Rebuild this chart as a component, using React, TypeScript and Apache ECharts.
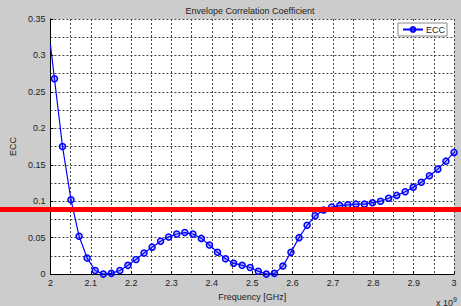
import React, { useEffect, useRef } from "react";
import * as echarts from "echarts";

const chartTitle = "Envelope Correlation Coefficient";
const seriesName = "ECC";
const xAxisTitle = "Frequency [GHz]";
const yAxisTitle = "ECC";
const xScaleNote = "x 10";
const xScaleExp = "9";

// first sample (no marker) and the marked samples
const startFreq = 2.0;
const startEcc = 0.315;
const freqGHz = [
  2.010, 2.030, 2.051, 2.071, 2.091, 2.111, 2.131, 2.151, 2.172, 2.192,
  2.212, 2.232, 2.252, 2.273, 2.293, 2.313, 2.333, 2.353, 2.374, 2.394,
  2.414, 2.434, 2.454, 2.475, 2.495, 2.515, 2.535, 2.555, 2.576, 2.596,
  2.616, 2.636, 2.656, 2.677, 2.697, 2.717, 2.737, 2.757, 2.778, 2.798,
  2.818, 2.838, 2.858, 2.879, 2.899, 2.919, 2.939, 2.960, 2.980, 3.000,
];
const eccValues = [
  0.268, 0.175, 0.102, 0.052, 0.022, 0.005, 0.000, 0.001, 0.005, 0.012,
  0.020, 0.029, 0.037, 0.045, 0.051, 0.055, 0.057, 0.055, 0.049, 0.040,
  0.030, 0.021, 0.015, 0.012, 0.009, 0.004, 0.000, 0.001, 0.011, 0.030,
  0.050, 0.067, 0.080, 0.088, 0.092, 0.094, 0.095, 0.096, 0.096, 0.098,
  0.100, 0.104, 0.108, 0.113, 0.119, 0.126, 0.135, 0.144, 0.155, 0.167,
];
const referenceLevel = 0.0885;

const FONT = "Liberation Sans, Arial, sans-serif";
const TXT = "#222";
const GRIDC = "#444";

export default function App() {
  const ref = useRef<HTMLDivElement>(null);
  useEffect(() => {
    document.body.style.margin = "0";
    if (!ref.current) return;
    const chart = echarts.init(ref.current, null, { renderer: "svg" });
    const data: any[] = [
      { value: [startFreq, startEcc], symbol: "none" },
      ...freqGHz.map((f, i) => [f, eccValues[i]]),
    ];
    const splitStyle = { show: true, lineStyle: { color: GRIDC, type: [2, 2], width: 1 } };
    chart.setOption({
      animation: false,
      backgroundColor: "#cccccc",
      textStyle: { fontFamily: FONT },
      grid: { left: 46, right: 7, top: 19, bottom: 27, show: true, backgroundColor: "#ffffff", borderWidth: 0 },
      legend: {
        data: [seriesName],
        right: 14,
        top: 23,
        backgroundColor: "#ffffff",
        borderColor: "#888",
        borderWidth: 1,
        borderRadius: 0,
        padding: [2, 2, 2, 4],
        itemWidth: 20,
        itemHeight: 6,
        itemGap: 4,
        textStyle: { fontSize: 9, color: TXT, fontFamily: FONT, padding: [0, 0, 0, -2] },
      },
      xAxis: {
        type: "value",
        min: 2,
        max: 3,
        interval: 0.1,
        name: xAxisTitle,
        nameLocation: "middle",
        nameGap: 13,
        nameTextStyle: { fontSize: 9, color: TXT, fontFamily: FONT },
        axisLine: { show: true, lineStyle: { color: "#000", width: 1 } },
        axisTick: { show: true, inside: true, length: 3, lineStyle: { color: "#000" } },
        axisLabel: {
          fontSize: 9,
          color: TXT,
          margin: 4,
          fontFamily: FONT,
          formatter: (v: number) => String(+v.toFixed(1)),
        },
        splitLine: splitStyle,
        minorTick: { show: false, splitNumber: 2 },
        minorSplitLine: splitStyle,
      },
      yAxis: {
        type: "value",
        min: 0,
        max: 0.35,
        interval: 0.05,
        name: yAxisTitle,
        nameLocation: "middle",
        nameGap: 21,
        nameTextStyle: { fontSize: 9, color: TXT, fontFamily: FONT },
        axisLine: { show: true, lineStyle: { color: "#000", width: 1 } },
        axisTick: { show: true, inside: true, length: 3, lineStyle: { color: "#000" } },
        axisLabel: {
          fontSize: 9,
          color: TXT,
          margin: 5,
          fontFamily: FONT,
          formatter: (v: number) => String(+v.toFixed(2)),
        },
        splitLine: splitStyle,
        minorTick: { show: false, splitNumber: 2 },
        minorSplitLine: splitStyle,
      },
      series: [
        {
          name: seriesName,
          type: "line",
          data,
          symbol: "circle",
          symbolSize: 6,
          showAllSymbol: true,
          lineStyle: { color: "#0000ff", width: 1.2 },
          itemStyle: { color: "rgba(0,0,255,0.25)", borderColor: "#0000ff", borderWidth: 1.5 },
          z: 5,
        },
      ],
      graphic: [
        {
          type: "text",
          id: "title",
          style: { text: chartTitle, x: 250, y: 11, align: "center", verticalAlign: "middle", fontSize: 9, fill: TXT, fontFamily: FONT },
        },
        {
          type: "text",
          id: "scale",
          style: {
            text: xScaleNote + "{s|" + xScaleExp + "}",
            x: 436,
            y: 296,
            fontSize: 9,
            fill: TXT,
            fontFamily: FONT,
            rich: { s: { fontSize: 7, verticalAlign: "top", padding: [0, 0, 6, 0], fill: TXT } } as any,
          },
        },
      ],
    });
    const py = chart.convertToPixel({ yAxisIndex: 0 }, referenceLevel) as number;
    chart.setOption({
      graphic: [
        {
          type: "rect",
          id: "refline",
          z: 100,
          shape: { x: 0, y: py - 2.5, width: 461, height: 5 },
          style: { fill: "#ff0000" },
        },
      ],
    });
    return () => chart.dispose();
  }, []);
  return <div ref={ref} style={{ width: 461, height: 306 }} />;
}
